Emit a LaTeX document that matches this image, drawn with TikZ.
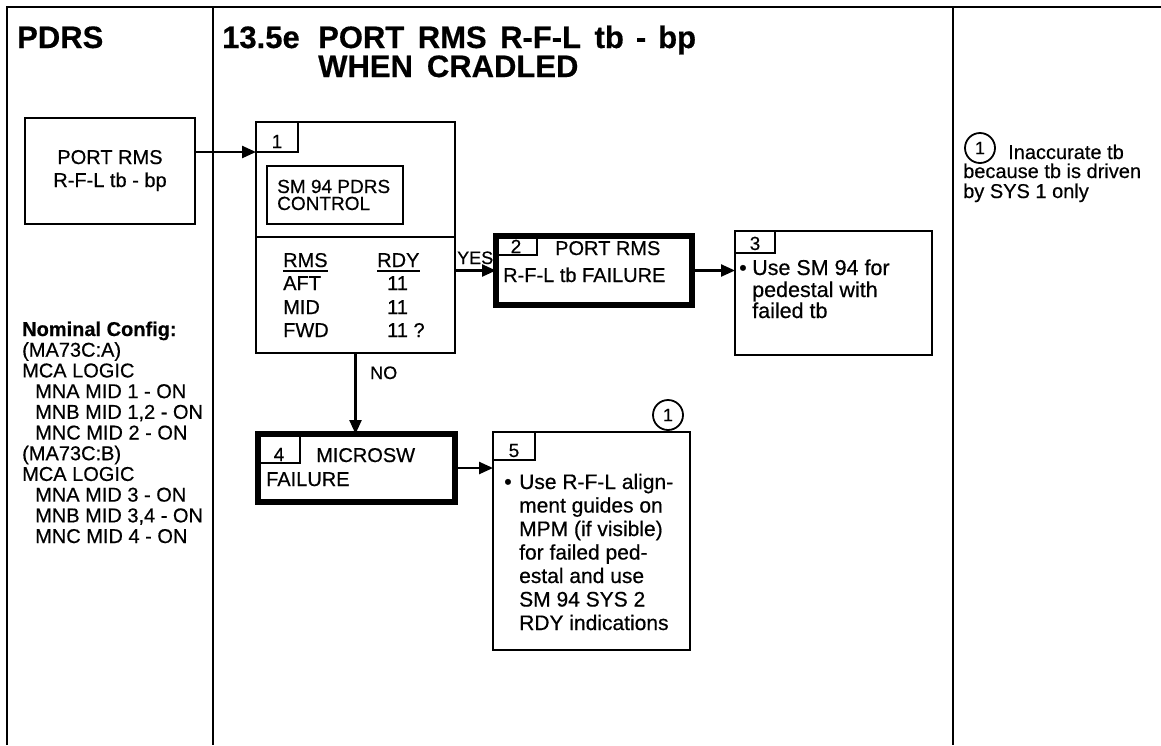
\documentclass[tikz,border=0pt]{standalone}
\usepackage{fontspec}
\setmainfont{Liberation Sans}[FakeBold=0.5]
\usetikzlibrary{arrows.meta,calc}
\begin{document}
\begin{tikzpicture}[x=1pt,y=-1pt,
  frame/.style={line width=2.2pt},
  box/.style={draw, line width=2pt, rectangle, anchor=north west, inner sep=0pt, outer sep=0pt},
  tbox/.style={draw, line width=6pt, rectangle, anchor=north west, inner sep=0pt, outer sep=0pt},
  cell/.style={draw, line width=1.6pt, rectangle, anchor=north west, inner sep=0pt, outer sep=0pt},
  arr/.style={line width=2.4pt, -{Triangle[length=14pt,width=12pt]}},
  hdr/.style={font=\fontsize{31}{31}\selectfont\bfseries, inner sep=0pt, anchor=base west},
  txt/.style={font=\fontsize{20}{20}\selectfont, inner sep=0pt, anchor=base west},
  btxt/.style={font=\fontsize{21.5}{21.5}\selectfont, inner sep=0pt, anchor=base west},
  ctxt/.style={txt, anchor=base},
  num/.style={font=\fontsize{19}{19}\selectfont, inner sep=0pt, anchor=base},
  circ/.style={circle, draw, line width=1.8pt, minimum size=30pt, inner sep=0pt, font=\fontsize{18}{18}\selectfont},
]
\useasboundingbox (0,0) rectangle (1161,745);
% frame
\draw[frame] (7,745) -- (7,7) -- (1161,7);
\draw[frame] (213,7) -- (213,745);
\draw[frame] (953,7) -- (953,745);
% headers
\node[hdr] (pdrs) at (17,48) {PDRS};
\node[hdr] (secno) at (222,48) {13.5e};
\node[hdr] (title1) at (318,48) {PORT\hspace{13.5pt}RMS\hspace{13.5pt}R-F-L\hspace{13.5pt}tb\hspace{12pt}-\hspace{12pt}bp};
\node[hdr] (title2) at (318,77) {WHEN\hspace{14pt}CRADLED};
% left box
\node[box, minimum width=170pt, minimum height=106pt] (lbox) at (25,118) {};
\node[ctxt] (lbt1) at (110,164) {PORT RMS};
\node[ctxt] (lbt2) at (110,187) {R-F-L tb - bp};
% box 1
\node[box, minimum width=199pt, minimum height=231pt] (b1) at (256,122) {};
\node[cell, minimum width=42pt, minimum height=30pt] (b1cell) at (256,122) {};
\node[num] (n1) at (277,148) {1};
\node[box, minimum width=136pt, minimum height=58pt] (b1in) at (267,166) {};
\node[txt, font=\fontsize{19}{19}\selectfont] (sm1) at (277,193) {SM 94 PDRS};
\node[txt, font=\fontsize{19}{19}\selectfont] (sm2) at (277,210) {CONTROL};
\draw[line width=2pt] (b1.west |- 0,237) coordinate (d1) -- (b1.east |- d1);
\node[txt] (rms) at (283,267) {RMS};
\node[txt] (rdy) at (377,267) {RDY};
\draw[line width=1.5pt] ([yshift=-4pt]rms.base west) -- ([yshift=-4pt]rms.base east);
\draw[line width=1.5pt] ([yshift=-4pt]rdy.base west) -- ([yshift=-4pt]rdy.base east);
\node[txt] (aft) at (283,290) {AFT};
\node[txt] (mid) at (283,314) {MID};
\node[txt] (fwd) at (283,337) {FWD};
\node[txt] (v1) at (387,290) {11};
\node[txt] (v2) at (387,314) {11};
\node[txt] (v3) at (387,337) {11 ?};
% box 2
\node[cell, minimum width=41pt, minimum height=19pt] (b2cell) at (496,236) {};
\node[tbox, minimum width=196pt, minimum height=69pt] (b2) at (496,236) {};
\node[num] (n2) at (516,253) {2};
\node[txt] (b2t1) at (555,255) {PORT RMS};
\node[txt] (b2t2) at (503,282) {R-F-L tb FAILURE};
% box 3
\node[box, minimum width=197pt, minimum height=124pt] (b3) at (735,231) {};
\node[cell, minimum width=40pt, minimum height=22pt] (b3cell) at (735,231) {};
\node[num] (n3) at (755,250) {3};
\node[btxt] (bul3) at (739,275) {\textbullet};
\node[btxt] (b3t1) at (752,275) {Use SM 94 for};
\node[btxt] (b3t2) at (752,297) {pedestal with};
\node[btxt] (b3t3) at (752,318) {failed tb};
% box 4
\node[cell, minimum width=42pt, minimum height=29pt] (b4cell) at (258,434) {};
\node[tbox, minimum width=197pt, minimum height=68pt] (b4) at (258,434) {};
\node[num] (n4) at (279,461) {4};
\node[txt] (b4t1) at (316,462) {MICROSW};
\node[txt] (b4t2) at (266,486) {FAILURE};
% box 5
\node[box, minimum width=197pt, minimum height=218pt] (b5) at (493,432) {};
\node[cell, minimum width=42pt, minimum height=28pt] (b5cell) at (493,432) {};
\node[num] (n5) at (514,457) {5};
\node[btxt] (bul5) at (504,489) {\textbullet};
\foreach \t [count=\i] in {{Use R-F-L align-},{ment guides on},{MPM (if visible)},{for failed ped-},{estal and use},{SM 94 SYS 2},{RDY indications}}
  \node[btxt, font=\fontsize{21}{21}\selectfont] (b5t\i) at (519,{489+(\i-1)*23.5}) {\t};
\node[circ, fill=white] (c5) at (668,415) {1};
% connectors
\draw[arr] (lbox.east |- b1cell.south) -- (b1cell.south west);
\draw[arr] (b1.east |- b2.west) -- (b2.west);
\node[txt, font=\fontsize{18}{18}\selectfont] (yes) at (457,264) {YES};
\draw[arr] (b2.east) -- (b2.east -| b3.west);
\draw[arr] (b1.south) -- (b1.south |- b4.north);
\node[txt, font=\fontsize{18}{18}\selectfont] (no) at (370,379) {NO};
\draw[arr] (b4.east) -- (b4.east -| b5.west);
% left column config
\foreach \t/\xx [count=\i] in {{\textbf{Nominal Config:}}/22,{(MA73C:A)}/22,{MCA LOGIC}/22,{MNA MID 1 - ON}/35,{MNB MID 1,2 - ON}/35,{MNC MID 2 - ON}/35,{(MA73C:B)}/22,{MCA LOGIC}/22,{MNA MID 3 - ON}/35,{MNB MID 3,4 - ON}/35,{MNC MID 4 - ON}/35}
  \node[txt] (cfg\i) at (\xx,{336+(\i-1)*20.7}) {\t};
% note
\node[circ] (cn) at (980,148) {1};
\node[txt] (nt1) at (1008,159) {Inaccurate tb};
\node[txt] (nt2) at (963,178) {because tb is driven};
\node[txt] (nt3) at (963,198) {by SYS 1 only};
\end{tikzpicture}
\end{document}
